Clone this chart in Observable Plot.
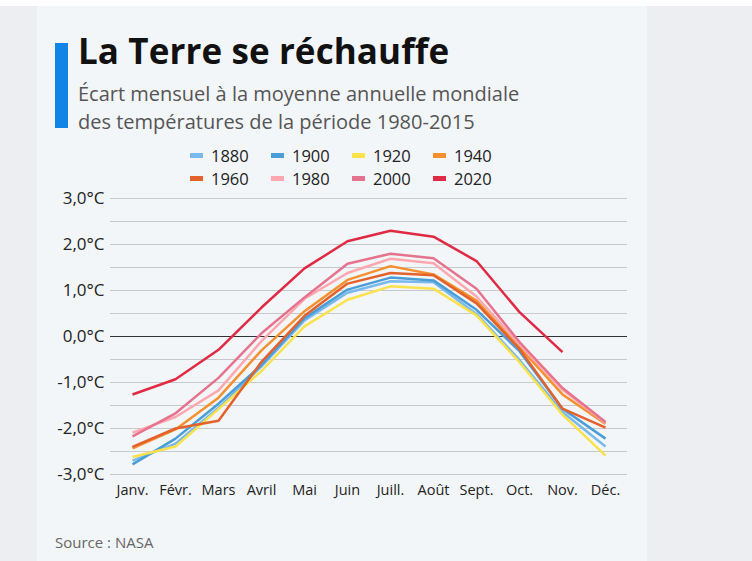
<!DOCTYPE html>
<html lang="fr">
<head>
<meta charset="utf-8">
<script src="https://cdn.jsdelivr.net/npm/d3@7"></script>
<script src="https://cdn.jsdelivr.net/npm/@observablehq/plot@0.6"></script>
<style>
  html, body { margin: 0; padding: 0; background: #eceef1; }
  #page { position: relative; width: 752px; height: 561px; overflow: hidden; font-family: "Open Sans", sans-serif; }
  #topband { position: absolute; left: 0; top: 0; width: 752px; height: 6px; background: #ffffff; }
  #card { position: absolute; left: 37px; top: 6px; width: 610px; height: 555px; background: #f3f6f9; }
  #accent { position: absolute; left: 55px; top: 43px; width: 13px; height: 85px; background: #1185e6; }
  #title { position: absolute; left: 78px; top: 28px; font-size: 35px; font-weight: 700; color: #111; white-space: nowrap; line-height: 46px; letter-spacing: 0.1px; }
  .sub { position: absolute; left: 78px; font-size: 20px; color: #555; line-height: 24px; height: 24px; white-space: nowrap; }
  #sub1 { top: 82px; }
  #sub2 { top: 109.5px; }
  #legend { position: absolute; left: 0; top: 0; }
  .item { position: absolute; display: flex; align-items: center; font-size: 16.5px; color: #222; white-space: nowrap; height: 22px; }
  .sw { width: 13px; height: 5px; margin-right: 8px; }
  #chart { position: absolute; left: 0; top: 190px; }
  #source { position: absolute; left: 55px; top: 532px; font-size: 15px; color: #666; white-space: nowrap; }
</style>
</head>
<body>
<div id="page">
  <div id="topband"></div>
  <div id="card"></div>
  <div id="accent"></div>
  <div id="title">La Terre se réchauffe</div>
  <div class="sub" id="sub1">Écart mensuel à la moyenne annuelle mondiale</div>
  <div class="sub" id="sub2">des températures de la période 1980-2015</div>
  <div id="legend"></div>
  <div id="chart"></div>
  <div id="source">Source : NASA</div>
</div>
<script>
// Months on the horizontal axis
const months = ["Janv.", "Févr.", "Mars", "Avril", "Mai", "Juin", "Juill.", "Août", "Sept.", "Oct.", "Nov.", "Déc."];

// Series names and their colours
const years = ["1880", "1900", "1920", "1940", "1960", "1980", "2000", "2020"];
const colors = ["#7ab9ec", "#4a9dd6", "#fbe14c", "#f4902e", "#e3612b", "#ffa7ae", "#e6738e", "#e02a44"];

// Monthly deviation (°C) from the 1980-2015 global annual mean
const t1880 = [-2.70, -2.33, -1.55, -0.65, 0.35, 0.95, 1.20, 1.18, 0.49, -0.51, -1.64, -2.39];
const t1900 = [-2.78, -2.22, -1.46, -0.62, 0.40, 1.02, 1.28, 1.22, 0.58, -0.32, -1.57, -2.22];
const t1920 = [-2.62, -2.39, -1.58, -0.75, 0.22, 0.80, 1.09, 1.04, 0.46, -0.56, -1.70, -2.59];
const t1940 = [-2.43, -2.02, -1.33, -0.30, 0.55, 1.23, 1.53, 1.35, 0.78, -0.23, -1.26, -1.90];
const t1960 = [-2.40, -2.00, -1.83, -0.55, 0.45, 1.15, 1.38, 1.33, 0.72, -0.27, -1.57, -1.98];
const t1980 = [-2.09, -1.75, -1.17, -0.10, 0.82, 1.38, 1.69, 1.59, 0.87, -0.17, -1.16, -1.88];
const t2000 = [-2.17, -1.67, -0.90, 0.07, 0.85, 1.58, 1.80, 1.70, 1.04, -0.12, -1.12, -1.86];
const t2020 = [-1.26, -0.93, -0.29, 0.63, 1.48, 2.07, 2.30, 2.17, 1.64, 0.53, -0.34];

// Axis ticks and grid
const yTicks = [-3, -2, -1, 0, 1, 2, 3];
const yGrid = [-3, -2.5, -2, -1.5, -1, -0.5, 0.5, 1, 1.5, 2, 2.5, 3];

const seriesValues = [t1880, t1900, t1920, t1940, t1960, t1980, t2000, t2020];
const rows = years.flatMap((yr, i) => seriesValues[i].map((v, j) => ({year: yr, month: months[j], value: v})));

const fmt = d => d.toFixed(1).replace(".", ",") + "°C";

// Legend: two rows of four entries
const legend = d3.select("#legend");
years.forEach((yr, i) => {
  const col = i % 4, row = Math.floor(i / 4);
  const item = legend.append("div").attr("class", "item")
    .style("left", (190 + col * 81) + "px")
    .style("top", (144 + row * 23) + "px");
  item.append("div").attr("class", "sw").style("background", colors[i]);
  item.append("span").text(yr);
});

const chart = Plot.plot({
  width: 752,
  height: 320,
  marginLeft: 110,
  marginRight: 125,
  marginTop: 8,
  marginBottom: 36,
  style: {background: "transparent", fontFamily: "Open Sans, sans-serif", color: "#222", overflow: "visible"},
  x: {type: "point", domain: months, padding: 0.46, label: null},
  y: {domain: [-3, 3], label: null},
  color: {domain: years, range: colors},
  marks: [
    Plot.ruleY(yGrid, {stroke: "#c6cacf", strokeWidth: 1.2}),
    Plot.ruleY([0], {stroke: "#333", strokeWidth: 1.2}),
    Plot.axisY(yTicks, {tickSize: 0, tickPadding: 6, tickFormat: fmt, fontSize: 17, fill: "#222", label: null}),
    Plot.axisX(months, {tickSize: 0, tickPadding: 10, fontSize: 14.5, fill: "#222", label: null}),
    Plot.line(rows, {x: "month", y: "value", z: "year", stroke: "year", strokeWidth: 2.5, strokeLinejoin: "miter", strokeLinecap: "butt"})
  ]
});
document.getElementById("chart").appendChild(chart);
</script>
</body>
</html>
